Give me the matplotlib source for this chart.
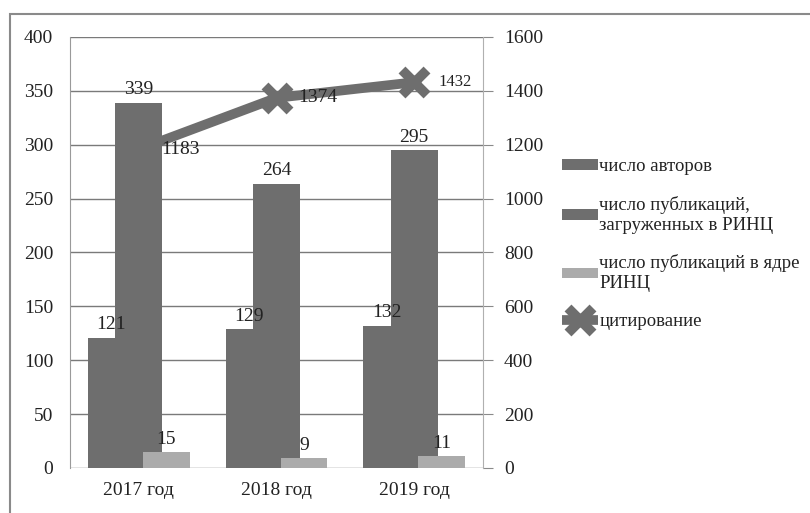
import numpy as np
import matplotlib.pyplot as plt
from matplotlib.patches import Rectangle

# data
years = ["2017 год", "2018 год", "2019 год"]
authors = [121, 129, 132]
pubs_rinc = [339, 264, 295]
pubs_core = [15, 9, 11]
citations = [1183, 1374, 1432]

plt.rcParams['font.family'] = ['Liberation Serif', 'DejaVu Serif']

fig = plt.figure(figsize=(8.1, 5.13), dpi=100)
W, H = 810, 513

# outer frame of the chart (runs off the right and bottom of the scan)
fig.patches.append(Rectangle((10 / W, -0.05), 1.0, 1 - 14 / H + 0.05,
                             transform=fig.transFigure, fill=False,
                             edgecolor='#8a8a8a', linewidth=1.5))

ax = fig.add_axes([70 / W, 1 - 468 / H, (483 - 70) / W, (468 - 37) / H])
ax2 = ax.twinx()

# bars on top, citation line behind them (as in the scan)
ax.set_zorder(ax2.get_zorder() + 1)
ax.patch.set_visible(False)

x = np.arange(len(years))
w = 0.34
off = 0.2
dark = '#6e6e6e'
light = '#ababab'
txt = '#222222'

ax.bar(x - off, authors, w, color=dark, zorder=2, label='число авторов')
ax.bar(x, pubs_rinc, w, color=dark, zorder=3,
       label='число публикаций,\nзагруженных в РИНЦ')
ax.bar(x + off, pubs_core, w, color=light, zorder=4,
       label='число публикаций в ядре\nРИНЦ')

ax.set_xlim(-0.5, 2.5)
ax.set_ylim(0, 400)
ax.set_yticks(range(0, 401, 50))
ax.set_xticks(x)
ax.set_xticklabels(years, fontsize=14, color=txt)
ax.tick_params(axis='y', labelsize=14, length=0, pad=12, labelcolor=txt)
ax.tick_params(axis='x', length=0, pad=10)
for s in ['top', 'bottom', 'right']:
    ax.spines[s].set_visible(False)
ax.spines['left'].set_color('#9a9a9a')

ax2.plot(x, citations, color=dark, linewidth=7, marker='x',
         markersize=18, markeredgewidth=7, solid_capstyle='butt',
         label='цитирование', zorder=3)
ax2.set_ylim(0, 1600)
ax2.set_yticks(range(0, 1601, 200))
ax2.grid(axis='y', color='#7a7a7a', linewidth=1.0, zorder=0)
ax2.set_axisbelow(True)
ax2.tick_params(axis='y', labelsize=14, length=7, color='#8a8a8a', pad=8,
                labelcolor=txt)
for s in ['top', 'bottom', 'left']:
    ax2.spines[s].set_visible(False)
ax2.spines['right'].set_color('#b0b0b0')

# data labels
for i in range(len(years)):
    ax.text(x[i] - off, authors[i] + 4, str(authors[i]), ha='center',
            va='bottom', fontsize=14, color=txt, zorder=6)
    ax.text(x[i], pubs_rinc[i] + 4, str(pubs_rinc[i]), ha='center',
            va='bottom', fontsize=14, color=txt, zorder=6)
    ax.text(x[i] + off, pubs_core[i] + 4, str(pubs_core[i]), ha='center',
            va='bottom', fontsize=14, color=txt, zorder=6)
    ax.text(x[i] + 0.3, citations[i], str(citations[i]), ha='center',
            va='center', fontsize=14 if i < 2 else 12, color=txt,
            zorder=6, transform=ax2.transData)

h1, l1 = ax.get_legend_handles_labels()
h2, l2 = ax2.get_legend_handles_labels()
leg = fig.legend(h1 + h2, l1 + l2, loc='center left',
                 bbox_to_anchor=(545 / W, 1 - 244 / H), frameon=False,
                 fontsize=13.5, handlelength=1.9, handleheight=0.5,
                 handletextpad=0.1, labelspacing=1.1)
for t in leg.get_texts():
    t.set_color(txt)

fig.savefig('out.png', dpi=100)
